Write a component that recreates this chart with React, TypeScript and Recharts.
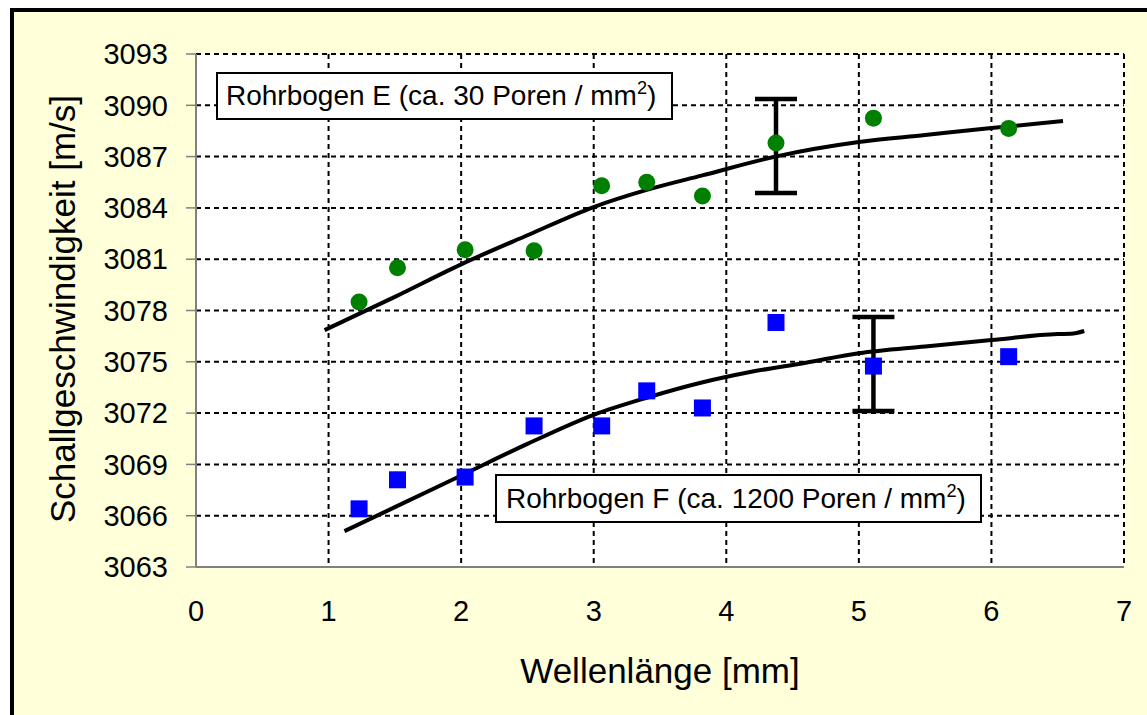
import React from 'react';
import { ComposedChart, Scatter, Line, XAxis, YAxis, CartesianGrid, ErrorBar, Label } from 'recharts';

const FONT = '"Liberation Sans", Arial, sans-serif';

// ---- data ----
const xTicks = [0, 1, 2, 3, 4, 5, 6, 7];
const yTicks = [3063, 3066, 3069, 3072, 3075, 3078, 3081, 3084, 3087, 3090, 3093];

const measX = [1.23, 1.52, 2.03, 2.55, 3.06, 3.4, 3.82, 4.375, 5.11, 6.13];
const seriesE = [3078.5, 3080.5, 3081.55, 3081.5, 3085.3, 3085.5, 3084.7, 3087.8, 3089.25, 3088.65];
const seriesF = [3066.4, 3068.1, 3068.26, 3071.25, 3071.25, 3073.3, 3072.3, 3077.3, 3074.75, 3075.3];

const fitEX = [0.97, 1.5, 2.0, 2.5, 3.0, 3.4, 3.82, 4.37, 5.0, 5.5, 6.0, 6.54];
const fitEY = [3076.85, 3078.8, 3080.7, 3082.4, 3084.05, 3085.05, 3085.9, 3087.0, 3087.85, 3088.26, 3088.67, 3089.08];

const fitFX = [1.12, 1.5, 2.04, 2.5, 3.0, 3.4, 3.8, 4.18, 4.6, 5.0, 5.5, 6.0, 6.5, 6.6, 6.7];
const fitFY = [3065.1, 3066.5, 3068.5, 3070.2, 3071.9, 3072.9, 3073.76, 3074.4, 3074.95, 3075.5, 3075.9, 3076.27, 3076.62, 3076.64, 3076.8];

const errEPoint = { x: 4.375, y: 3087.8, err: [2.93, 2.57] };
const errFPoint = { x: 5.11, y: 3074.75, err: [2.63, 2.87] };

const labelE = 'Rohrbogen E (ca. 30 Poren / mm';
const labelF = 'Rohrbogen F (ca. 1200 Poren / mm';
const xTitle = 'Wellenlänge [mm]';
const yTitle = 'Schallgeschwindigkeit [m/s]';

const dataE = measX.map((x, i) => ({ x, y: seriesE[i] }));
const dataF = measX.map((x, i) => ({ x, y: seriesF[i] }));
const fitE = fitEX.map((x, i) => ({ x, y: fitEY[i] }));
const fitF = fitFX.map((x, i) => ({ x, y: fitFY[i] }));

const Circle = (p: any) => <circle cx={p.cx} cy={p.cy} r={8.5} fill="#008000" />;
const Square = (p: any) => <rect x={p.cx - 8.5} y={p.cy - 8.5} width={17} height={17} fill="#0000FF" />;
const Empty = () => <g />;

const boxStyle: React.CSSProperties = {
  position: 'absolute',
  background: '#fff',
  border: '2px solid #000',
  boxSizing: 'border-box',
  fontFamily: FONT,
  fontSize: 28,
  color: '#000',
  display: 'flex',
  alignItems: 'center',
  whiteSpace: 'nowrap',
};
const supStyle: React.CSSProperties = { fontSize: '0.65em', lineHeight: 0, verticalAlign: '0.62em' };

export default function App() {
  return (
    <div style={{ position: 'absolute', left: 0, top: 0, width: 1147, height: 715, overflow: 'hidden', background: '#fff' }}>
      <div
        style={{
          position: 'absolute',
          left: 10,
          top: 8,
          width: 1200,
          height: 800,
          background: '#FFFFDA',
          borderLeft: '4px solid #000',
          borderTop: '4px solid #000',
        }}
      />
      <div style={{ position: 'absolute', left: 0, top: 0 }}>
        <ComposedChart width={1147} height={715} margin={{ top: 54, right: 23, bottom: 0, left: 0 }}>
          <CartesianGrid fill="#fff" stroke="#000" strokeDasharray="5 4" strokeWidth={2} />
          <XAxis
            dataKey="x"
            type="number"
            domain={[0, 7]}
            ticks={xTicks}
            height={148}
            tickLine={false}
            tickSize={0}
            tickMargin={33}
            axisLine={{ stroke: '#808080', strokeWidth: 2 }}
            tick={{ fill: '#000', fontSize: 29, fontFamily: FONT }}
            allowDataOverflow
          >
            <Label
              content={() => (
                <text x={660} y={683} textAnchor="middle" fontSize={35} fontFamily={FONT} fill="#000">
                  {xTitle}
                </text>
              )}
            />
          </XAxis>
          <YAxis
            dataKey="y"
            type="number"
            domain={[3063, 3093]}
            ticks={yTicks}
            width={196}
            tickSize={10}
            tickMargin={18}
            tickLine={{ stroke: '#808080', strokeWidth: 1.5 }}
            axisLine={{ stroke: '#808080', strokeWidth: 2 }}
            tick={{ fill: '#000', fontSize: 29, fontFamily: FONT }}
            allowDataOverflow
          >
            <Label
              content={() => (
                <text
                  x={75}
                  y={309}
                  textAnchor="middle"
                  fontSize={35}
                  fontFamily={FONT}
                  fill="#000"
                  transform="rotate(-90, 75, 309)"
                >
                  {yTitle}
                </text>
              )}
            />
          </YAxis>
          <Scatter data={dataE} shape={Circle} isAnimationActive={false} />
          <Scatter data={dataF} shape={Square} isAnimationActive={false} />
          <Line data={fitE} dataKey="y" type="monotone" stroke="#000" strokeWidth={4} dot={false} activeDot={false} isAnimationActive={false} />
          <Line data={fitF} dataKey="y" type="monotone" stroke="#000" strokeWidth={4} dot={false} activeDot={false} isAnimationActive={false} />
          <Scatter data={[errEPoint]} shape={Empty} isAnimationActive={false}>
            <ErrorBar dataKey="err" direction="y" width={21} strokeWidth={4.5} stroke="#000" isAnimationActive={false} />
          </Scatter>
          <Scatter data={[errFPoint]} shape={Empty} isAnimationActive={false}>
            <ErrorBar dataKey="err" direction="y" width={21} strokeWidth={4.5} stroke="#000" isAnimationActive={false} />
          </Scatter>
        </ComposedChart>
      </div>
      <div style={{ ...boxStyle, left: 216, top: 72, width: 457, height: 48, paddingLeft: 8 }}>
        <span>
          {labelE}
          <sup style={supStyle}>2</sup>)
        </span>
      </div>
      <div style={{ ...boxStyle, left: 495, top: 474, width: 487, height: 49, paddingLeft: 9 }}>
        <span>
          {labelF}
          <sup style={supStyle}>2</sup>)
        </span>
      </div>
    </div>
  );
}
